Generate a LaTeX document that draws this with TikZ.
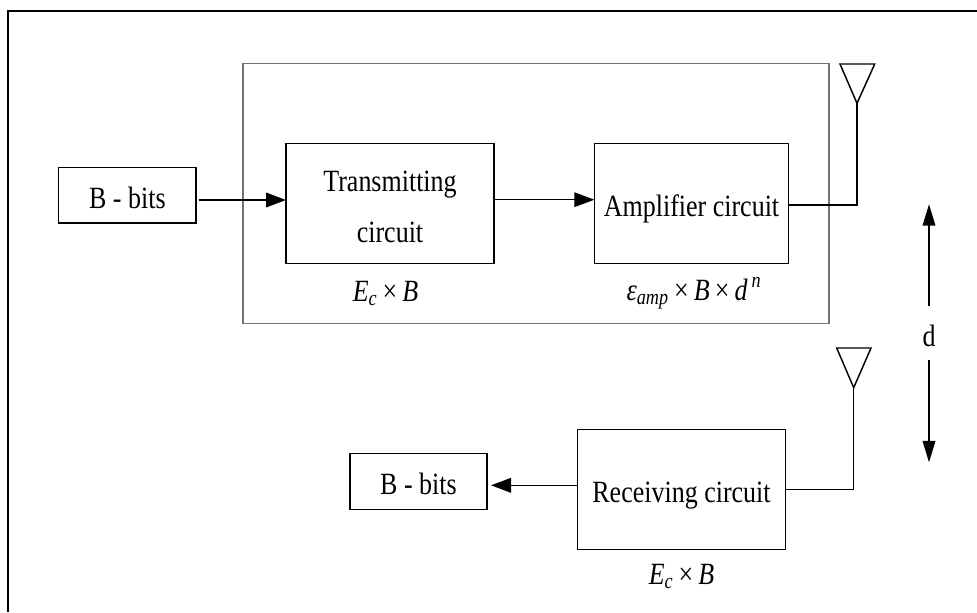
\documentclass[tikz,border=0pt]{standalone}
\usepackage{amsmath}
\usepackage{fontspec}
\setmainfont[FakeStretch=0.84]{Liberation Serif}
\usetikzlibrary{arrows.meta}

\newcommand{\ivar}[1]{\text{\textit{#1}}}

\begin{document}
\begin{tikzpicture}[
            x = 0.75pt, y = -0.75pt, % one unit is one pixel of the reference
            > = {Triangle[length=15pt,width=11pt]}, % arrow head style
            line width = 1pt % line style
        ]

        \tikzstyle{every node}=[font = \fontsize{23.2}{38.25}\selectfont, outer sep = 0pt]
        \tikzstyle{block}=[
            draw = black,
            line width = 1.1pt,
            fill = white,
            inner sep = 0pt,
            align = center,
            text height = 19.5pt,
            text depth = 0pt
        ]
        \tikzstyle{tallblock}=[
            draw = black,
            line width = 1.1pt,
            fill = white,
            inner sep = 0pt,
            align = center,
            text height = 58.5pt,
            text depth = 0pt
        ]
        \tikzstyle{cost}=[anchor = base, inner sep = 0pt]
        \tikzstyle{aerial}=[draw = black, line width = 1.1pt]
        \tikzstyle{span}=[{Triangle[length=16pt,width=9.5pt]}-]

        \useasboundingbox (0,0) rectangle (977,612);

        % page frame, only two sides show
        \coordinate (fa) at (8,612);
        \coordinate (fb) at (8,11);
        \coordinate (fc) at (977,11);
        \draw[line width = 1.6pt] (fa) -- (fb) -- (fc);

        % transmitter
        \node[draw = black!55, line width = 1.1pt, minimum width = 439.5pt, minimum height = 194.7pt] (tx) at (536,193.5) {};
        \node[block, minimum width = 103pt, minimum height = 41.5pt] (inbits) at (127.35,195.35) {B - bits};
        \node[tallblock, minimum width = 156pt, minimum height = 90pt] (trans) at (390,203.7) {Transmitting\\circuit};
        \node[block, minimum width = 145.8pt, minimum height = 90pt] (amp) at (691.5,203.7) {Amplifier circuit};
        \node[cost] (lbltrans) at (385.5,301) {$\ivar{E}_{\ivar{c}}$\,×\,\textit{B}};
        \node[cost] (lblamp) at (694,300) {\textit{ε}$_{\ivar{amp}}$\,×\,\textit{B}\,×\,\textit{d}$^{\,\ivar{n}}$};

        % receiver
        \node[block, minimum width = 155.7pt, minimum height = 89.7pt] (recv) at (681.5,489.5) {Receiving circuit};
        \node[block, minimum width = 102.75pt, minimum height = 42pt] (outbits) at (418.5,481.3) {B - bits};
        \node[cost] (lblrecv) at (681.5,584) {$\ivar{E}_{\ivar{c}}$\,×\,\textit{B}};

        % aerials
        \coordinate (ta) at (857,103.3);
        \coordinate (tb) at (857,205);
        \coordinate (ra) at (853.7,387.7);
        \coordinate (rb) at (853.7,489.3);
        \draw[aerial] (ta) -- (840,64) -- (874.7,64) -- cycle;
        \draw[aerial] (ra) -- (836.7,348) -- (871,348) -- cycle;
        \draw (ta) -- (tb) -- (tb -| amp.east);
        \draw (ra) -- (rb) -- (rb -| recv.east);

        % distance
        \node[cost] (dist) at (929,346.7) {d};
        \coordinate (dtop) at (929,204.3);
        \coordinate (dtopend) at (929,306);
        \coordinate (dbot) at (929,462.3);
        \coordinate (dbotend) at (929,360);
        \draw[span] (dtop) -- (dtopend);
        \draw[span] (dbot) -- (dbotend);

        \path[->] (inbits.east |- 0,200) edge[shorten <=2pt] (trans.west |- 0,200);
        \path[->] (trans.east |- 0,199.7) edge (amp.west |- 0,199.7);
        \path[->] (recv.west |- 0,485.3) edge[shorten >=3pt] (outbits.east |- 0,485.3);

  \end{tikzpicture}
\end{document}
